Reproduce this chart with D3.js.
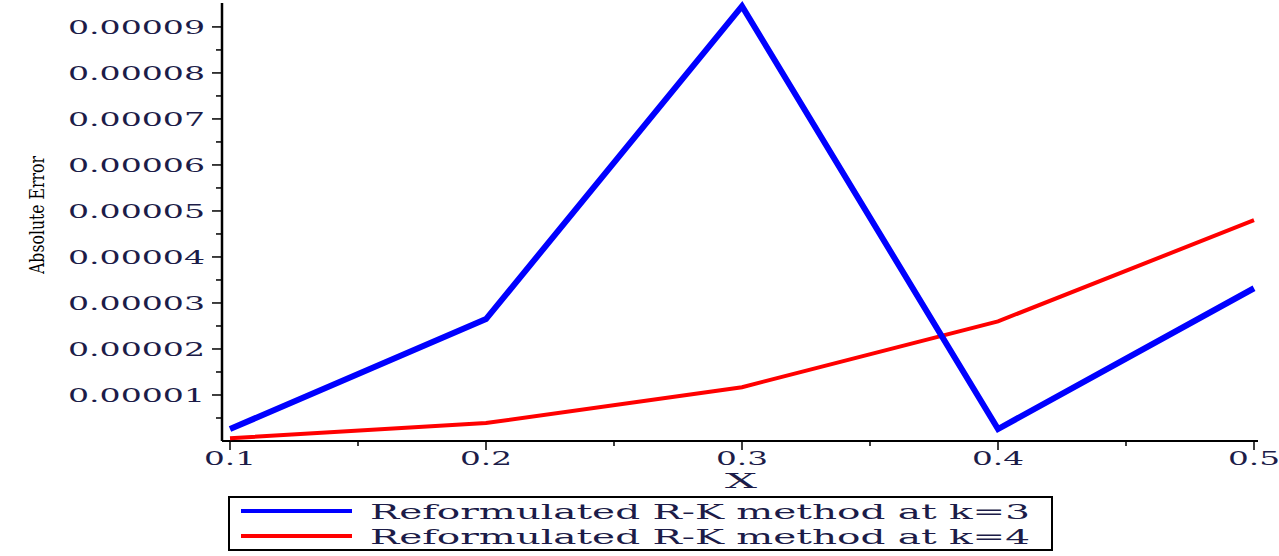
<!DOCTYPE html>
<html><head><meta charset="utf-8">
<script src="https://cdn.jsdelivr.net/npm/d3@7"></script>
<style>body{margin:0;background:#fff}text{font-family:"DejaVu Serif","Liberation Serif",serif}</style>
</head><body><svg id="c" width="1279" height="556"></svg>
<script>
const xValues=[0.1,0.2,0.3,0.4,0.5];
const k3=[2.6e-6,2.65e-5,9.45e-5,2.6e-6,3.32e-5];
const k4=[0.6e-6,3.9e-6,1.17e-5,2.6e-5,4.8e-5];
const xTicks=[0.1,0.2,0.3,0.4,0.5];
const yTicks=[1e-5,2e-5,3e-5,4e-5,5e-5,6e-5,7e-5,8e-5,9e-5];
const yTickLabels=["0.00001","0.00002","0.00003","0.00004","0.00005","0.00006","0.00007","0.00008","0.00009"];
const legendLabels=["Reformulated R-K method at k=3","Reformulated R-K method at k=4"];
const colors=["#0000ff","#ff0000"];
const txt="#1c1c48";
const svg=d3.select("#c");
const x=d3.scaleLinear().domain([0.1,0.5]).range([230,1254]);
const y=d3.scaleLinear().domain([0,9.52e-5]).range([441,3]);
const g=svg.append("g");
g.append("line").attr("x1",222).attr("x2",222).attr("y1",3).attr("y2",441).attr("stroke","#000").attr("stroke-width",2.5);
g.append("line").attr("x1",222).attr("x2",1258).attr("y1",441).attr("y2",441).attr("stroke","#000").attr("stroke-width",2);
const yMinor=d3.range(0.5e-5,9.5e-5,1e-5);
yMinor.forEach(v=>g.append("line").attr("x1",216).attr("x2",222).attr("y1",y(v)).attr("y2",y(v)).attr("stroke","#000").attr("stroke-width",1.5));
yTicks.forEach((v,i)=>{
 g.append("line").attr("x1",212).attr("x2",222).attr("y1",y(v)).attr("y2",y(v)).attr("stroke","#000").attr("stroke-width",1.5);
 g.append("text").attr("x",205).attr("y",y(v)+7).attr("text-anchor","end").attr("font-size",19)
  .attr("textLength",137).attr("lengthAdjust","spacingAndGlyphs").attr("fill",txt).text(yTickLabels[i]);
});
const xMinor=[0.15,0.25,0.35,0.45];
xMinor.forEach(v=>g.append("line").attr("x1",x(v)).attr("x2",x(v)).attr("y1",441).attr("y2",446).attr("stroke","#000").attr("stroke-width",1.5));
xTicks.forEach(v=>{
 g.append("line").attr("x1",x(v)).attr("x2",x(v)).attr("y1",441).attr("y2",450).attr("stroke","#000").attr("stroke-width",1.5);
 g.append("text").attr("x",x(v)).attr("y",465).attr("text-anchor","middle").attr("font-size",19)
  .attr("textLength",52).attr("lengthAdjust","spacingAndGlyphs").attr("fill",txt).text(d3.format(".1f")(v));
});
g.append("text").attr("x",741).attr("y",488).attr("text-anchor","middle").attr("font-size",20)
 .attr("textLength",32).attr("lengthAdjust","spacingAndGlyphs").attr("fill",txt).text("X");
g.append("text").attr("transform","translate(44,215) rotate(-90)").attr("text-anchor","middle").attr("font-size",20)
 .attr("textLength",118).attr("lengthAdjust","spacingAndGlyphs").attr("font-family","Liberation Serif").attr("fill","#000").text("Absolute Error");
const line=d3.line().x((d,i)=>x(xValues[i])).y(d=>y(d));
g.append("path").datum(k4).attr("d",line).attr("fill","none").attr("stroke",colors[1]).attr("stroke-width",4);
g.append("path").datum(k3).attr("d",line).attr("fill","none").attr("stroke",colors[0]).attr("stroke-width",6);
g.append("rect").attr("x",229).attr("y",497).attr("width",823).attr("height",53).attr("fill","none").attr("stroke","#000").attr("stroke-width",2);
legendLabels.forEach((t,i)=>{
 const yy=511+i*25;
 g.append("line").attr("x1",241).attr("x2",352).attr("y1",yy).attr("y2",yy).attr("stroke",colors[i]).attr("stroke-width",4);
 g.append("text").attr("x",370).attr("y",yy+8).attr("font-size",21)
  .attr("textLength",660).attr("lengthAdjust","spacingAndGlyphs").attr("fill",txt).text(t);
});
</script></body></html>
